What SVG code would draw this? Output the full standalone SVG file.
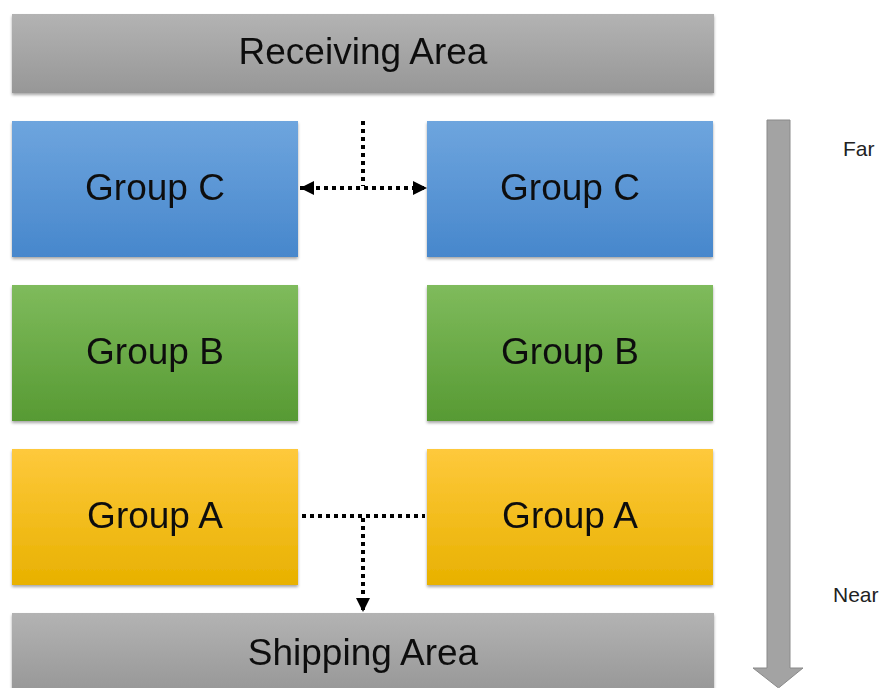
<svg xmlns="http://www.w3.org/2000/svg" width="887" height="688" viewBox="0 0 887 688">
  <style>
    .lbl { font-family: "Liberation Sans", Arial, sans-serif; font-size: 37px; fill: #111; text-anchor: middle; }
    .side { font-family: "Liberation Sans", Arial, sans-serif; font-size: 21px; fill: #222; }
    .dot { fill: none; stroke: #000; stroke-width: 4; stroke-dasharray: 4 4; }
  </style>
  <defs>
    <linearGradient id="gGray" x1="0" y1="0" x2="0" y2="1">
      <stop offset="0" stop-color="#b3b3b3"/>
      <stop offset="1" stop-color="#979797"/>
    </linearGradient>
    <linearGradient id="gBlue" x1="0" y1="0" x2="0" y2="1">
      <stop offset="0" stop-color="#6ea5de"/>
      <stop offset="1" stop-color="#4787cc"/>
    </linearGradient>
    <linearGradient id="gGreen" x1="0" y1="0" x2="0" y2="1">
      <stop offset="0" stop-color="#7fbb5c"/>
      <stop offset="1" stop-color="#579a33"/>
    </linearGradient>
    <linearGradient id="gYellow" x1="0" y1="0" x2="0" y2="1">
      <stop offset="0" stop-color="#fec93c"/>
      <stop offset="1" stop-color="#e8b100"/>
    </linearGradient>
    <filter id="shadow" x="-5%" y="-10%" width="110%" height="125%">
      <feDropShadow dx="0" dy="2" stdDeviation="1.5" flood-color="#000" flood-opacity="0.35"/>
    </filter>
    <marker id="ah" viewBox="0 0 10 10" refX="10" refY="5" markerWidth="3.6" markerHeight="3.6" orient="auto-start-reverse" markerUnits="strokeWidth">
      <path d="M0,0 L10,5 L0,10 Z" fill="#000"/>
    </marker>
  </defs>

  <!-- areas -->
  <g id="receiving" filter="url(#shadow)">
    <rect x="12" y="14" width="702" height="79" fill="url(#gGray)"/>
    <text class="lbl" x="363" y="64">Receiving Area</text>
  </g>
  <g id="shipping" filter="url(#shadow)">
    <rect x="12" y="613" width="702" height="80" fill="url(#gGray)"/>
    <text class="lbl" x="363" y="665">Shipping Area</text>
  </g>

  <!-- group C row -->
  <g id="groupC-left" filter="url(#shadow)">
    <rect x="12" y="121" width="286" height="136" fill="url(#gBlue)"/>
    <text class="lbl" x="155" y="200">Group C</text>
  </g>
  <g id="groupC-right" filter="url(#shadow)">
    <rect x="427" y="121" width="286" height="136" fill="url(#gBlue)"/>
    <text class="lbl" x="570" y="200">Group C</text>
  </g>

  <!-- group B row -->
  <g id="groupB-left" filter="url(#shadow)">
    <rect x="12" y="285" width="286" height="136" fill="url(#gGreen)"/>
    <text class="lbl" x="155" y="364">Group B</text>
  </g>
  <g id="groupB-right" filter="url(#shadow)">
    <rect x="427" y="285" width="286" height="136" fill="url(#gGreen)"/>
    <text class="lbl" x="570" y="364">Group B</text>
  </g>

  <!-- group A row -->
  <g id="groupA-left" filter="url(#shadow)">
    <rect x="12" y="449" width="286" height="136" fill="url(#gYellow)"/>
    <text class="lbl" x="155" y="528">Group A</text>
  </g>
  <g id="groupA-right" filter="url(#shadow)">
    <rect x="427" y="449" width="286" height="136" fill="url(#gYellow)"/>
    <text class="lbl" x="570" y="528">Group A</text>
  </g>

  <!-- distance scale -->
  <g id="scale">
    <path d="M767,120 H790 V668 H803 L778.5,688 L753,668 H767 Z" fill="#a3a3a3" stroke="#8a8a8a" stroke-width="1"/>
    <text class="side" x="843" y="156">Far</text>
    <text class="side" x="833" y="602">Near</text>
  </g>

  <!-- connectors -->
  <g id="connectors">
    <path class="dot" d="M363,121 V186"/>
    <path class="dot" d="M300,188 H427" marker-start="url(#ah)" marker-end="url(#ah)"/>
    <path class="dot" d="M302,516 H425"/>
    <path class="dot" d="M363,518 V612" marker-end="url(#ah)"/>
  </g>
</svg>
